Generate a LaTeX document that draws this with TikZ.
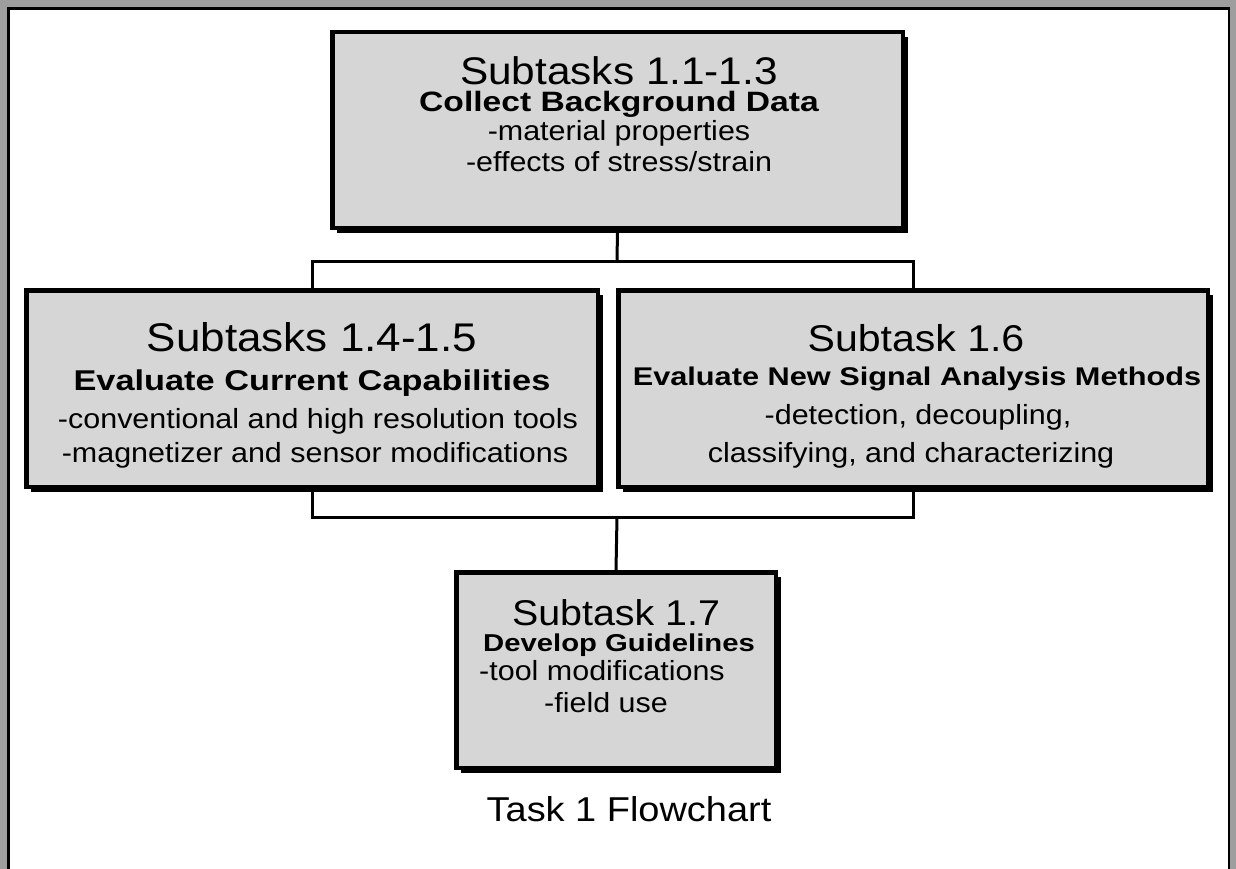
\documentclass[tikz,border=0pt]{standalone}
\usepackage{fontspec}
\setmainfont{Liberation Sans}
\newfontfamily\fr{Liberation Sans}[FakeStretch=1.1]
\newfontfamily\fb{Liberation Sans}[FakeStretch=1.2]
\usetikzlibrary{shadows}
\definecolor{boxgray}{gray}{0.84}
\definecolor{bandgray}{gray}{0.62}
\newcommand\fsz[1]{\fontsize{#1pt}{#1pt}\selectfont}
\begin{document}
\begin{tikzpicture}[x=1pt,y=-1pt,
  box/.style={draw=black, line width=4.5pt, fill=boxgray, inner sep=0pt,
    drop shadow={shadow xshift=5pt, shadow yshift=-5pt, fill=black, opacity=1}},
  link/.style={draw=black, line width=3pt},
  txt/.style={anchor=base, inner sep=0pt}
]
\useasboundingbox (0,0) rectangle (1236,869);
\clip (0,0) rectangle (1236,869);
% outer frame
\fill[bandgray] (0,0) rectangle (1236,869);
\fill[white] (9.5,9.5) rectangle (1228,880);
\draw[line width=2.5pt] (8.5,880) -- (8.5,8.5) -- (1229,8.5) -- (1229,880);

% boxes
\node[box, minimum width=570.5pt, minimum height=195.5pt] (b1) at (617.5,130) {};
\node[box, minimum width=571.5pt, minimum height=196.5pt] (b2) at (312,388.5) {};
\node[box, minimum width=589.5pt, minimum height=196.5pt] (b3) at (913,388.5) {};
\node[box, minimum width=319.5pt, minimum height=195.5pt] (b4) at (616,670) {};

% connectors
\coordinate (hubtop) at (617,261);
\coordinate (hubbot) at (617,517);
\draw[link] (b1.south) -- (hubtop);
\draw[link] (b2.north) |- (hubtop) -| (b3.north);
\draw[link] (b2.south) |- (hubbot) -| (b3.south);
\draw[link] (hubbot) -- (b4.north);

% texts top box
\node[txt] (t1a) at (619,85)  {\fr\fsz{38.5}Subtasks 1.1-1.3};
\node[txt] (t1b) at (619,112) {\fb\bfseries\fsz{28}Collect Background Data};
\node[txt] (t1c) at (619,141) {\fr\fsz{27.7}-material properties};
\node[txt] (t1d) at (619,172) {\fr\fsz{27.7}-effects of stress/strain};

% texts left box
\node[txt] (t2a) at (312,351) {\fr\fsz{40}Subtasks 1.4-1.5};
\node[txt] (t2b) at (312,390) {\fb\bfseries\fsz{28.6}Evaluate Current Capabilities};
\node[txt] (t2c) at (318,428) {\fr\fsz{27.7}-conventional and high resolution tools};
\node[txt] (t2d) at (315,462) {\fr\fsz{27.7}-magnetizer and sensor modifications};

% texts right box
\node[txt] (t3a) at (916,351) {\fr\fsz{37.3}Subtask 1.6};
\node[txt] (t3b) at (917,385) {\fb\bfseries\fsz{25.6}Evaluate New Signal Analysis Methods};
\node[txt] (t3c) at (918,424) {\fr\fsz{27.7}-detection, decoupling,};
\node[txt] (t3d) at (911,462) {\fr\fsz{27.7}classifying, and characterizing};

% texts bottom box
\node[txt] (t4a) at (616,625) {\fr\fsz{35.8}Subtask 1.7};
\node[txt] (t4b) at (619,651) {\fb\bfseries\fsz{24.4}Develop Guidelines};
\node[txt] (t4c) at (602,680) {\fr\fsz{27.7}-tool modifications};
\node[txt] (t4d) at (606,712) {\fr\fsz{27.7}-field use};

% caption
\node[txt] (cap) at (629,821) {\fr\fsz{34.5}Task 1 Flowchart};
\end{tikzpicture}
\end{document}
